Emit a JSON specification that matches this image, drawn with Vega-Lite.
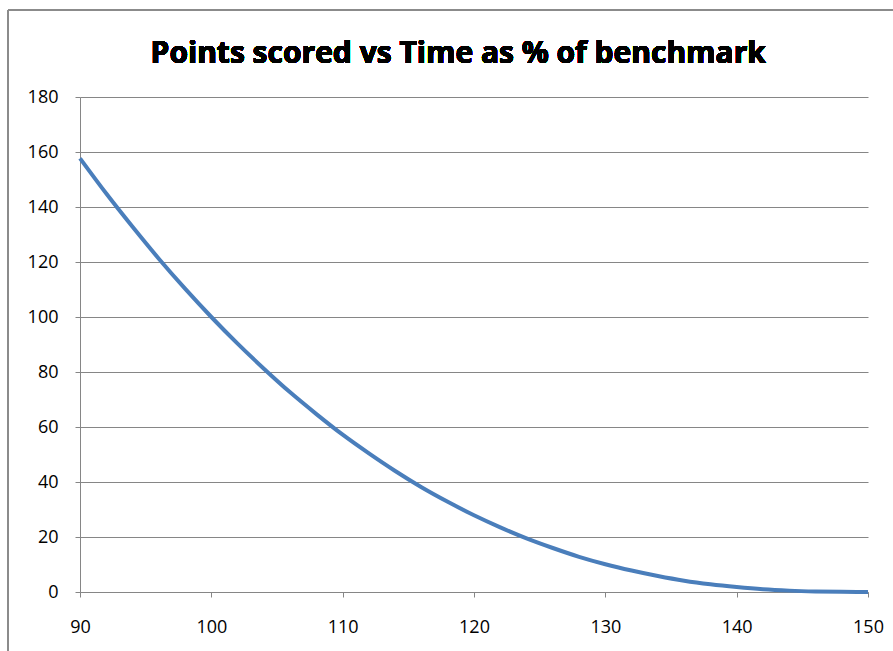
{
  "$schema": "https://vega.github.io/schema/vega-lite/v6.json",
  "width": 788,
  "height": 495,
  "autosize": {"type": "none"},
  "padding": {"left": 80, "top": 97, "right": 25, "bottom": 59},
  "background": "white",
  "config": {"view": {"stroke": null}},
  "data": {
    "values": [
      {"t": 90, "points": 157.7},
      {"t": 92, "points": 144.9},
      {"t": 94, "points": 132.8},
      {"t": 96, "points": 121.2},
      {"t": 98, "points": 110.3},
      {"t": 100, "points": 100.0},
      {"t": 102, "points": 90.3},
      {"t": 104, "points": 81.2},
      {"t": 106, "points": 72.6},
      {"t": 108, "points": 64.7},
      {"t": 110, "points": 57.2},
      {"t": 112, "points": 50.4},
      {"t": 114, "points": 44.0},
      {"t": 116, "points": 38.1},
      {"t": 118, "points": 32.8},
      {"t": 120, "points": 27.9},
      {"t": 122, "points": 23.5},
      {"t": 124, "points": 19.5},
      {"t": 126, "points": 16.0},
      {"t": 128, "points": 12.8},
      {"t": 130, "points": 10.1},
      {"t": 132, "points": 7.8},
      {"t": 134, "points": 5.8},
      {"t": 136, "points": 4.1},
      {"t": 138, "points": 2.8},
      {"t": 140, "points": 1.8},
      {"t": 142, "points": 1.0},
      {"t": 144, "points": 0.5},
      {"t": 146, "points": 0.2},
      {"t": 148, "points": 0.05},
      {"t": 150, "points": 0.0}
    ]
  },
  "layer": [
    {
      "mark": {"type": "rule", "color": "#8c8c8c", "strokeWidth": 1},
      "encoding": {
        "x": {"datum": 84.52, "type": "quantitative"},
        "y": {"datum": 211.6, "type": "quantitative"},
        "y2": {"datum": -25}
      }
    },
    {
      "mark": {"type": "rule", "color": "#8c8c8c", "strokeWidth": 1},
      "encoding": {
        "x": {"datum": 84.52, "type": "quantitative"},
        "x2": {"datum": 156},
        "y": {"datum": 211.6, "type": "quantitative"}
      }
    },
    {
      "mark": {
        "type": "text",
        "font": "Open Sans",
        "fontSize": 30,
        "fontWeight": "bold",
        "color": "#000000",
        "align": "center",
        "baseline": "alphabetic"
      },
      "encoding": {
        "x": {"datum": 118.8, "type": "quantitative"},
        "y": {"datum": 192.5, "type": "quantitative"},
        "text": {"value": "Points scored vs Time as % of benchmark"}
      }
    },
    {
      "mark": {"type": "line", "color": "#4A7EBB", "strokeWidth": 4, "interpolate": "monotone"},
      "encoding": {
        "x": {
          "field": "t",
          "type": "quantitative",
          "scale": {"domain": [90, 150], "nice": false, "zero": false},
          "axis": {
            "title": null,
            "values": [90, 100, 110, 120, 130, 140, 150],
            "grid": false,
            "domainColor": "#868686",
            "tickColor": "#868686",
            "tickSize": 5,
            "labelFont": "Open Sans",
            "labelFontSize": 18,
            "labelColor": "#000000",
            "labelPadding": 21,
            "labelFlush": false
          }
        },
        "y": {
          "field": "points",
          "type": "quantitative",
          "scale": {"domain": [0, 180], "nice": false},
          "axis": {
            "title": null,
            "values": [0, 20, 40, 60, 80, 100, 120, 140, 160, 180],
            "grid": true,
            "gridColor": "#868686",
            "domainColor": "#868686",
            "tickColor": "#868686",
            "tickSize": 5,
            "labelFont": "Open Sans",
            "labelFontSize": 18,
            "labelColor": "#000000",
            "labelPadding": 17
          }
        }
      }
    }
  ]
}
